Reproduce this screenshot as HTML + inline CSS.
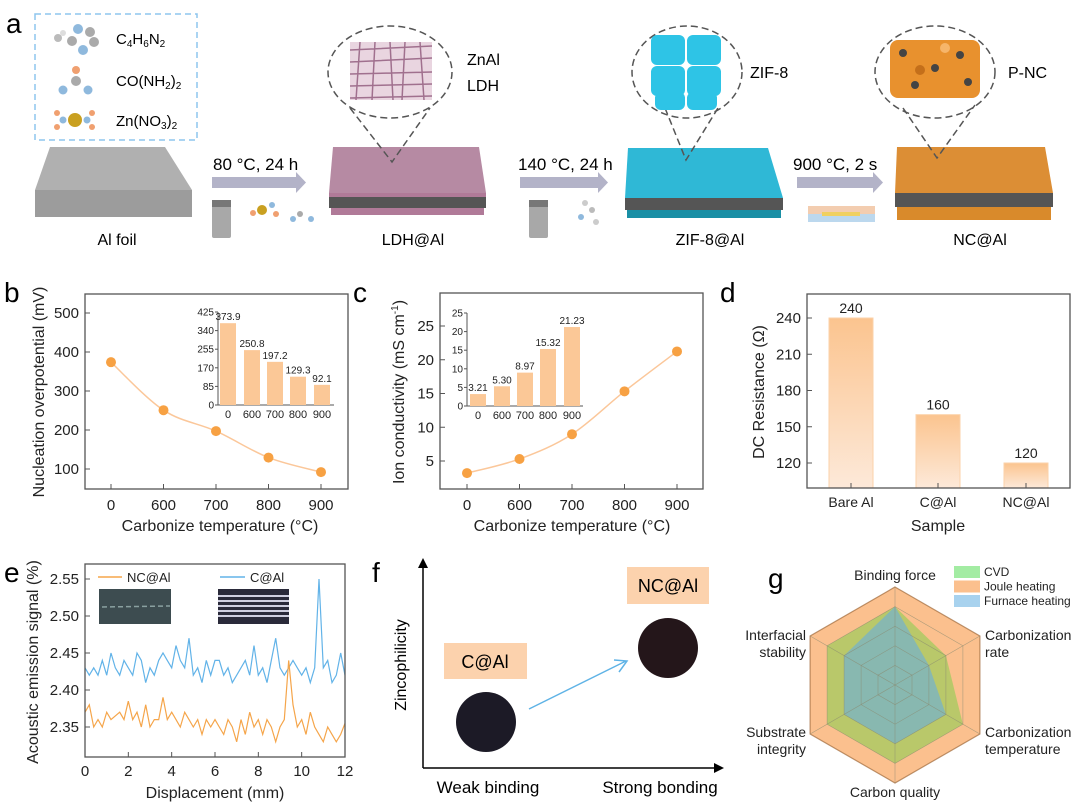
<!DOCTYPE html>
<html><head><meta charset="utf-8"><style>
html,body{margin:0;padding:0;background:#fff;}
svg{display:block;font-family:"Liberation Sans",Arial,sans-serif;}
</style></head><body>
<svg id="fig" width="1080" height="805" viewBox="0 0 1080 805" xmlns="http://www.w3.org/2000/svg">
<defs>
<linearGradient id="barGrad" x1="0" y1="0" x2="0" y2="1"><stop offset="0" stop-color="#fbc48f"/><stop offset="1" stop-color="#fde9d9"/></linearGradient>
</defs>
<!-- Panel a -->
<g>
<text x="6" y="33" font-size="28" fill="#000">a</text>
<rect x="35" y="14" width="162" height="126" fill="none" stroke="#8ec5ee" stroke-width="1.5" stroke-dasharray="6,4"/>
<g>
<circle cx="78" cy="29" r="5" fill="#8fb9dd"/><circle cx="90" cy="32" r="5" fill="#aaa"/><circle cx="72" cy="41" r="5" fill="#aaa"/><circle cx="94" cy="42" r="5" fill="#aaa"/><circle cx="83" cy="50" r="5" fill="#8fb9dd"/><circle cx="58" cy="38" r="4" fill="#bbb"/><circle cx="63" cy="33" r="3" fill="#ddd"/>
<circle cx="76" cy="70" r="4" fill="#f0a070"/><circle cx="76" cy="81" r="5" fill="#aaa"/><circle cx="63" cy="90" r="4.5" fill="#8fb9dd"/><circle cx="88" cy="90" r="4.5" fill="#8fb9dd"/>
<circle cx="75" cy="120" r="7" fill="#c9a020"/><circle cx="63" cy="120" r="3.5" fill="#8fb9dd"/><circle cx="87" cy="120" r="3.5" fill="#8fb9dd"/><circle cx="57" cy="113" r="3" fill="#f0a070"/><circle cx="57" cy="127" r="3" fill="#f0a070"/><circle cx="92" cy="113" r="3" fill="#f0a070"/><circle cx="92" cy="127" r="3" fill="#f0a070"/>
</g>
<text x="116" y="44" font-size="15">C<tspan font-size="10" dy="3">4</tspan><tspan dy="-3">H</tspan><tspan font-size="10" dy="3">6</tspan><tspan dy="-3">N</tspan><tspan font-size="10" dy="3">2</tspan></text>
<text x="116" y="86" font-size="15">CO(NH<tspan font-size="10" dy="3">2</tspan><tspan dy="-3">)</tspan><tspan font-size="10" dy="3">2</tspan></text>
<text x="116" y="126" font-size="15">Zn(NO<tspan font-size="10" dy="3">3</tspan><tspan dy="-3">)</tspan><tspan font-size="10" dy="3">2</tspan></text>
<g>
<polygon points="50,147 165,147 192,190 35,190" fill="#b0b0b0"/><rect x="35" y="190" width="157" height="27" fill="#9c9c9c"/>
</g>
<text x="117" y="245" font-size="16" text-anchor="middle">Al foil</text>
<g><rect x="212" y="177" width="84" height="11" fill="#b3b3c8"/><polygon points="296,172 306,182.5 296,193" fill="#b3b3c8"/></g>
<text x="213" y="170" font-size="17">80 °C, 24 h</text>
<g><rect x="212" y="200" width="19" height="38" rx="2" fill="#a8a8a8"/><rect x="212" y="200" width="19" height="7" fill="#777"/><rect x="529" y="200" width="19" height="38" rx="2" fill="#a8a8a8"/><rect x="529" y="200" width="19" height="7" fill="#777"/>
<circle cx="262" cy="210" r="5" fill="#c9a020"/><circle cx="253" cy="213" r="3" fill="#f0a070"/><circle cx="272" cy="205" r="3" fill="#8fb9dd"/><circle cx="276" cy="214" r="3" fill="#f0a070"/><circle cx="300" cy="214" r="3" fill="#aaa"/><circle cx="293" cy="219" r="3" fill="#8fb9dd"/><circle cx="311" cy="219" r="3" fill="#8fb9dd"/>
<circle cx="585" cy="203" r="3" fill="#ccc"/><circle cx="592" cy="210" r="3" fill="#bbb"/><circle cx="581" cy="217" r="3" fill="#8fb9dd"/><circle cx="596" cy="222" r="3" fill="#ccc"/></g>
<g>
<polygon points="333,147 479,147 486,193 329,193" fill="#b68aa3"/><rect x="329" y="193" width="157" height="4" fill="#b07a98"/><rect x="329" y="197" width="157" height="11" fill="#555"/><rect x="331" y="208" width="153" height="7" fill="#b07a98"/>
</g>
<text x="413" y="245" font-size="16" text-anchor="middle">LDH@Al</text>
<ellipse cx="390" cy="72" rx="62" ry="46" fill="#fff" stroke="#555" stroke-width="1.5" stroke-dasharray="7,4"/>
<polyline points="350,108 392,162 430,108" fill="none" stroke="#555" stroke-width="1.5" stroke-dasharray="7,4"/>
<g stroke="#a0708e" stroke-width="1.5" fill="none">
<rect x="350" y="42" width="82" height="58" fill="#e9d5e0" stroke="none"/>
<path d="M350,50 L432,46 M350,62 L432,58 M350,74 L432,72 M350,86 L432,84 M350,98 L432,96 M360,42 L356,100 M375,42 L372,100 M390,42 L393,100 M405,42 L402,100 M420,42 L424,100"/>
</g>
<text x="467" y="65" font-size="16">ZnAl</text>
<text x="467" y="91" font-size="16">LDH</text>
<g><rect x="520" y="177" width="78" height="11" fill="#b3b3c8"/><polygon points="598,172 608,182.5 598,193" fill="#b3b3c8"/></g>
<text x="518" y="170" font-size="17">140 °C, 24 h</text>
<g>
<polygon points="628,148 768,148 783,198 625,198" fill="#2fb8d6"/><rect x="625" y="198" width="158" height="12" fill="#555"/><rect x="627" y="210" width="154" height="8" fill="#1a8fa5"/>
</g>
<text x="710" y="245" font-size="16" text-anchor="middle">ZIF-8@Al</text>
<ellipse cx="687" cy="72" rx="55" ry="46" fill="#fff" stroke="#555" stroke-width="1.5" stroke-dasharray="7,4"/>
<polyline points="665,108 686,160 718,108" fill="none" stroke="#555" stroke-width="1.5" stroke-dasharray="7,4"/>
<g fill="#2ec4e6">
<rect x="651" y="35" width="34" height="30" rx="6"/><rect x="687" y="35" width="34" height="30" rx="6"/><rect x="651" y="66" width="34" height="30" rx="6"/><rect x="687" y="66" width="34" height="30" rx="6"/><rect x="655" y="92" width="30" height="18" rx="6"/><rect x="687" y="92" width="30" height="18" rx="6"/>
</g>
<text x="750" y="78" font-size="16">ZIF-8</text>
<g><rect x="797" y="177" width="76" height="11" fill="#b3b3c8"/><polygon points="873,172 883,182.5 873,193" fill="#b3b3c8"/></g>
<text x="793" y="170" font-size="17">900 °C, 2 s</text>
<g><rect x="808" y="206" width="67" height="8" fill="#f3cdb0"/><rect x="808" y="214" width="67" height="8" fill="#bcd8ee"/><rect x="822" y="212" width="38" height="4" fill="#f0d060"/></g>
<g>
<polygon points="897,147 1045,147 1053,193 895,193" fill="#dc8e35"/><rect x="895" y="193" width="158" height="14" fill="#555"/><rect x="897" y="207" width="154" height="13" fill="#d98a2b"/>
</g>
<text x="980" y="245" font-size="16" text-anchor="middle">NC@Al</text>
<ellipse cx="935" cy="72" rx="60" ry="46" fill="#fff" stroke="#555" stroke-width="1.5" stroke-dasharray="7,4"/>
<polyline points="903,108 937,158 975,105" fill="none" stroke="#555" stroke-width="1.5" stroke-dasharray="7,4"/>
<g>
<rect x="890" y="40" width="90" height="58" rx="8" fill="#e8912e"/>
<circle cx="903" cy="53" r="4" fill="#444"/><circle cx="935" cy="68" r="4" fill="#444"/><circle cx="960" cy="55" r="4" fill="#444"/><circle cx="915" cy="85" r="4" fill="#444"/><circle cx="968" cy="82" r="4" fill="#444"/><circle cx="945" cy="48" r="5" fill="#f6b56a"/><circle cx="920" cy="70" r="5" fill="#c46f1a"/>
</g>
<text x="1008" y="78" font-size="16">P-NC</text>
</g>
<!-- panel letters -->
<text x="4" y="302" font-size="28">b</text>
<text x="353" y="302" font-size="28">c</text>
<text x="720" y="302" font-size="28">d</text>
<text x="4" y="582" font-size="28">e</text>
<text x="372" y="582" font-size="28">f</text>
<text x="768" y="588" font-size="28">g</text>
<!-- Panel f -->
<g>
<line x1="423" y1="768" x2="423" y2="566" stroke="#000" stroke-width="1.5"/>
<polygon points="418,568 423,558 428,568" fill="#000"/>
<line x1="423" y1="768" x2="716" y2="768" stroke="#000" stroke-width="1.5"/>
<polygon points="714,763 724,768 714,773" fill="#000"/>
<text transform="translate(406,665) rotate(-90)" font-size="16" text-anchor="middle">Zincophilicity</text>
<text x="488" y="793" font-size="17" text-anchor="middle">Weak binding</text>
<text x="660" y="793" font-size="17" text-anchor="middle">Strong bonding</text>
<rect x="444" y="643" width="83" height="36" fill="#fcd2ad"/>
<text x="485" y="668" font-size="18" text-anchor="middle">C@Al</text>
<circle cx="486" cy="722" r="30" fill="#1c1a26"/>
<rect x="627" y="567" width="82" height="37" fill="#fcd2ad"/>
<text x="668" y="592" font-size="18" text-anchor="middle">NC@Al</text>
<circle cx="668" cy="648" r="30" fill="#24161a"/>
<line x1="529" y1="709" x2="626" y2="661" stroke="#5fb3e6" stroke-width="1.5"/>
<polyline points="614,660 627,661 619,672" fill="none" stroke="#5fb3e6" stroke-width="1.5"/>
</g>
<g id="charts"></g>
</svg>
<script>
// ---------- data ----------
const bCats = ['0','600','700','800','900'];
const bVals = [373.9, 250.8, 197.2, 129.3, 92.1];
const bLabels = ['373.9','250.8','197.2','129.3','92.1'];
const bYTicks = [100, 200, 300, 400, 500];
const bInsetTicks = [0, 85, 170, 255, 340, 425];
const cCats = ['0','600','700','800','900'];
const cVals = [3.21, 5.30, 8.97, 15.32, 21.23];
const cLabels = ['3.21','5.30','8.97','15.32','21.23'];
const cYTicks = [5, 10, 15, 20, 25];
const cInsetTicks = [0, 5, 10, 15, 20, 25];
const dCats = ['Bare Al','C@Al','NC@Al'];
const dVals = [240, 160, 120];
const dYTicks = [120, 150, 180, 210, 240];
const eXTicks = [0, 2, 4, 6, 8, 10, 12];
const eYTicks = [2.35, 2.40, 2.45, 2.50, 2.55];
const eOrange = [2.37,2.38,2.35,2.36,2.35,2.37,2.36,2.365,2.37,2.36,
 2.385,2.36,2.37,2.35,2.38,2.35,2.36,2.36,2.39,2.36,
 2.37,2.36,2.35,2.37,2.36,2.35,2.36,2.34,2.36,2.35,
 2.36,2.35,2.34,2.36,2.35,2.33,2.36,2.34,2.37,2.35,
 2.36,2.34,2.36,2.35,2.33,2.35,2.36,2.44,2.38,2.35,
 2.36,2.34,2.37,2.35,2.34,2.33,2.35,2.34,2.33,2.34,2.355];
const eBlue = [2.43,2.42,2.43,2.42,2.44,2.42,2.45,2.43,2.42,2.44,
 2.43,2.42,2.45,2.44,2.41,2.43,2.42,2.44,2.45,2.44,
 2.43,2.46,2.44,2.43,2.47,2.42,2.43,2.41,2.44,2.42,
 2.44,2.44,2.42,2.43,2.41,2.42,2.43,2.44,2.42,2.46,
 2.42,2.43,2.41,2.44,2.47,2.43,2.42,2.43,2.44,2.43,
 2.42,2.43,2.41,2.43,2.55,2.43,2.44,2.41,2.42,2.45,2.42];
const gAxes = ['Binding force','Carbonization rate','Carbonization temperature','Carbon quality','Substrate integrity','Interfacial stability'];
const gJoule = [5,5,5,5,5,5];
const gCVD = [4,3,4,4,4,4];
const gFurnace = [4,2,3,3,3,3];

const NS = 'http://www.w3.org/2000/svg';
const root = document.getElementById('charts');
function el(tag, attrs, parent) {
  const e = document.createElementNS(NS, tag);
  for (const k in attrs) e.setAttribute(k, attrs[k]);
  (parent || root).appendChild(e);
  return e;
}
function txt(x, y, s, size, anchor, parent) {
  const t = el('text', {x: x, y: y, 'font-size': size, 'text-anchor': anchor || 'middle', fill: '#222'}, parent);
  t.textContent = s;
  return t;
}
function smooth(pts) {
  let d = 'M' + pts[0][0] + ',' + pts[0][1];
  for (let i = 0; i < pts.length - 1; i++) {
    const p0 = pts[Math.max(i - 1, 0)], p1 = pts[i], p2 = pts[i + 1], p3 = pts[Math.min(i + 2, pts.length - 1)];
    const c1 = [p1[0] + (p2[0] - p0[0]) / 6, p1[1] + (p2[1] - p0[1]) / 6];
    const c2 = [p2[0] - (p3[0] - p1[0]) / 6, p2[1] - (p3[1] - p1[1]) / 6];
    d += ' C' + c1 + ' ' + c2 + ' ' + p2;
  }
  return d;
}
function frame(x0, y0, x1, y1, name) {
  const r = el('rect', {x: x0, y: y0, width: x1 - x0, height: y1 - y0, fill: 'none', stroke: '#555', 'stroke-width': 1.3});
  
  
}

// ---------- panel b ----------
(function () {
  const g = el('g', {});
  
  
  const X0 = 85, X1 = 348, Y0 = 294, Y1 = 489;
  const xs = [111, 163.5, 216, 268.5, 321];
  const y = v => 469 - (v - 100) * (156 / 400);
  frame(X0, Y0, X1, Y1, 'b-plot-frame');
  bYTicks.forEach(v => {
    el('line', {x1: X0, y1: y(v), x2: X0 + 5, y2: y(v), stroke: '#555'}, g);
    const t = txt(X0 - 6, y(v) + 5, v, 15, 'end', g);
    
    
  });
  bCats.forEach((c, i) => {
    el('line', {x1: xs[i], y1: Y1, x2: xs[i], y2: Y1 - 5, stroke: '#555'}, g);
    const t = txt(xs[i], 510, c, 15, 'middle', g);
    
    
  });
  const pts = bVals.map((v, i) => [xs[i], y(v)]);
  const p = el('path', {d: smooth(pts), fill: 'none', stroke: '#fbc79a', 'stroke-width': 1.5}, g);
  
  
  pts.forEach(pt => {
    const c = el('circle', {cx: pt[0], cy: pt[1], r: 5, fill: '#f7a143'}, g);
    
    
  });
  const xt = txt(220, 531, 'Carbonize temperature (°C)', 16, 'middle', g);
  
  
  const yt = txt(0, 0, 'Nucleation overpotential (mV)', 16, 'middle', g);
  yt.setAttribute('transform', 'translate(44,392) rotate(-90)');
  
  
  const iX0 = 218, iX1 = 334, iY0 = 312, iY1 = 405;
  const ixs = [228, 252, 275, 298, 322];
  const iy = v => iY1 - v * (iY1 - iY0) / 425;
  el('line', {x1: iX0, y1: iY0, x2: iX0, y2: iY1, stroke: '#555'}, g);
  el('line', {x1: iX0, y1: iY1, x2: iX1, y2: iY1, stroke: '#555'}, g);
  bInsetTicks.forEach(v => {
    el('line', {x1: iX0 - 3, y1: iy(v), x2: iX0, y2: iy(v), stroke: '#555'}, g);
    const t = txt(iX0 - 4, iy(v) + 3.5, v, 10, 'end', g);
    
    
  });
  bVals.forEach((v, i) => {
    const r = el('rect', {x: ixs[i] - 8, y: iy(v), width: 16, height: iY1 - iy(v), fill: '#fbc897'}, g);
    
    
    const t = txt(ixs[i], iy(v) - 3, bLabels[i], 10, 'middle', g);
    
    
    const t2 = txt(ixs[i], iY1 + 13, bCats[i], 11, 'middle', g);
    
    
  });
})();

// ---------- panel c ----------
(function () {
  const g = el('g', {});
  
  
  const X0 = 440, X1 = 703, Y0 = 293, Y1 = 489;
  const xs = [467, 519.5, 572, 624.5, 677];
  const y = v => 461 - (v - 5) * (135 / 20);
  frame(X0, Y0, X1, Y1, 'c-plot-frame');
  cYTicks.forEach(v => {
    el('line', {x1: X0, y1: y(v), x2: X0 + 5, y2: y(v), stroke: '#555'}, g);
    const t = txt(X0 - 6, y(v) + 5, v, 15, 'end', g);
    
    
  });
  cCats.forEach((c, i) => {
    el('line', {x1: xs[i], y1: Y1, x2: xs[i], y2: Y1 - 5, stroke: '#555'}, g);
    const t = txt(xs[i], 510, c, 15, 'middle', g);
    
    
  });
  const pts = cVals.map((v, i) => [xs[i], y(v)]);
  const p = el('path', {d: smooth(pts), fill: 'none', stroke: '#fbc79a', 'stroke-width': 1.5}, g);
  
  
  pts.forEach(pt => {
    const c = el('circle', {cx: pt[0], cy: pt[1], r: 5, fill: '#f7a143'}, g);
    
    
  });
  const xt = txt(572, 531, 'Carbonize temperature (°C)', 16, 'middle', g);
  
  
  const yt = el('text', {transform: 'translate(404,392) rotate(-90)', 'font-size': 16, 'text-anchor': 'middle', fill: '#222'}, g);
  yt.innerHTML = 'Ion conductivity (mS cm<tspan font-size="10" dy="-6">-1</tspan><tspan dy="6">)</tspan>';
  
  
  const iX0 = 467, iX1 = 583, iY0 = 313, iY1 = 406;
  const ixs = [478, 502, 525, 548, 572];
  const iy = v => iY1 - v * (iY1 - iY0) / 25;
  el('line', {x1: iX0, y1: iY0, x2: iX0, y2: iY1, stroke: '#555'}, g);
  el('line', {x1: iX0, y1: iY1, x2: iX1, y2: iY1, stroke: '#555'}, g);
  cInsetTicks.forEach(v => {
    el('line', {x1: iX0 - 3, y1: iy(v), x2: iX0, y2: iy(v), stroke: '#555'}, g);
    const t = txt(iX0 - 4, iy(v) + 3.5, v, 10, 'end', g);
    
    
  });
  cVals.forEach((v, i) => {
    const r = el('rect', {x: ixs[i] - 8, y: iy(v), width: 16, height: iY1 - iy(v), fill: '#fbc897'}, g);
    
    
    const t = txt(ixs[i], iy(v) - 3, cLabels[i], 10, 'middle', g);
    
    
    const t2 = txt(ixs[i], iY1 + 13, cCats[i], 11, 'middle', g);
    
    
  });
})();

// ---------- panel d ----------
(function () {
  const g = el('g', {});
  
  
  const X0 = 807, X1 = 1070, Y0 = 294, Y1 = 488;
  const xs = [851, 938, 1026];
  const y = v => 463 - (v - 120) * (145 / 120);
  dVals.forEach((v, i) => {
    const r = el('rect', {x: xs[i] - 22, y: y(v), width: 44, height: Y1 - y(v), fill: 'url(#barGrad)', stroke: '#fbd2aa'}, g);
    
    
    const t = txt(xs[i], y(v) - 5, v, 14, 'middle', g);
    
    
    const t2 = txt(xs[i], 507, dCats[i], 14, 'middle', g);
    
    
    el('line', {x1: xs[i], y1: Y1, x2: xs[i], y2: Y1 - 5, stroke: '#555'}, g);
  });
  frame(X0, Y0, X1, Y1, 'd-plot-frame');
  dYTicks.forEach(v => {
    el('line', {x1: X0, y1: y(v), x2: X0 + 5, y2: y(v), stroke: '#555'}, g);
    const t = txt(X0 - 6, y(v) + 5, v, 15, 'end', g);
    
    
  });
  const xt = txt(938, 531, 'Sample', 16, 'middle', g);
  
  
  const yt = txt(0, 0, 'DC Resistance (Ω)', 16, 'middle', g);
  yt.setAttribute('transform', 'translate(764,392) rotate(-90)');
  
  
})();

// ---------- panel e ----------
(function () {
  const g = el('g', {});
  
  
  const X0 = 85, X1 = 345, Y0 = 564, Y1 = 757;
  const x = v => X0 + v * (X1 - X0) / 12;
  const y = v => 727 - (v - 2.35) * (148 / 0.2);
  frame(X0, Y0, X1, Y1, 'e-plot-frame');
  eYTicks.forEach(v => {
    el('line', {x1: X0, y1: y(v), x2: X0 + 5, y2: y(v), stroke: '#555'}, g);
    const t = txt(X0 - 6, y(v) + 5, v.toFixed(2), 15, 'end', g);
    
    
  });
  eXTicks.forEach(v => {
    el('line', {x1: x(v), y1: Y1, x2: x(v), y2: Y1 - 5, stroke: '#555'}, g);
    const t = txt(x(v), 776, v, 15, 'middle', g);
    
    
  });
  const line = (arr, color, name) => {
    const n = arr.length;
    const pts = arr.map((v, i) => x(i * 12 / (n - 1)).toFixed(1) + ',' + y(v).toFixed(1)).join(' ');
    const pl = el('polyline', {points: pts, fill: 'none', stroke: color, 'stroke-width': 1.2}, g);
    
    
  };
  line(eBlue, '#62b3e8', 'e-series-c-al');
  line(eOrange, '#f5a54a', 'e-series-nc-al');
  el('line', {x1: 98, y1: 577, x2: 122, y2: 577, stroke: '#f5a54a', 'stroke-width': 1.5}, g);
  const l1 = txt(127, 582, 'NC@Al', 13, 'start', g);
  
  
  el('line', {x1: 220, y1: 577, x2: 245, y2: 577, stroke: '#62b3e8', 'stroke-width': 1.5}, g);
  const l2 = txt(250, 582, 'C@Al', 13, 'start', g);
  
  
  const im1 = el('rect', {x: 99, y: 589, width: 72, height: 35, fill: '#3d4c50'}, g);
  
  
  el('line', {x1: 102, y1: 607, x2: 170, y2: 606, stroke: '#8aa0a0', 'stroke-width': 1.5, 'stroke-dasharray': '5,3'}, g);
  const im2 = el('rect', {x: 218, y: 589, width: 71, height: 35, fill: '#2a2a3a'}, g);
  
  
  [596, 601, 606, 611, 616].forEach(yy => el('line', {x1: 218, y1: yy, x2: 289, y2: yy, stroke: '#cfcfe0', 'stroke-width': 2}, g));
  const xt = txt(215, 798, 'Displacement (mm)', 16, 'middle', g);
  
  
  const yt = txt(0, 0, 'Acoustic emission signal (%)', 16, 'middle', g);
  yt.setAttribute('transform', 'translate(38,662) rotate(-90)');
  
  
})();

// ---------- panel g ----------
(function () {
  const g = el('g', {});
  
  
  const cx = 895, cy = 685, R = 98, N = 6, MAX = 5;
  const pt = (i, v) => {
    const a = -Math.PI / 2 + i * 2 * Math.PI / N;
    return [cx + R * v / MAX * Math.cos(a), cy + R * v / MAX * Math.sin(a)];
  };
  const poly = (vals, fill, op, name) => {
    const p = el('polygon', {points: vals.map((v, i) => pt(i, v).map(n => n.toFixed(1)).join(',')).join(' '), fill: fill, 'fill-opacity': op}, g);
    
    
  };
  poly(gJoule, '#fbc08e', 1, 'g-series-joule-heating');
  poly(gCVD, '#b9c86a', 1, 'g-series-cvd');
  poly(gFurnace, '#88b8b0', 1, 'g-series-furnace-heating');
  for (let l = 1; l <= MAX; l++) {
    el('polygon', {points: gJoule.map((_, i) => pt(i, l).map(n => n.toFixed(1)).join(',')).join(' '), fill: 'none', stroke: l === MAX ? '#a06a3a' : '#8a8a70', 'stroke-width': l === MAX ? 1.2 : 0.6, 'stroke-opacity': 0.7}, g);
  }
  for (let i = 0; i < N; i++) {
    const p = pt(i, MAX);
    el('line', {x1: cx, y1: cy, x2: p[0], y2: p[1], stroke: '#8a8a70', 'stroke-width': 0.6, 'stroke-opacity': 0.7}, g);
  }
  const lab = [[895, 580, 'middle', ['Binding force']], [985, 640, 'start', ['Carbonization', 'rate']], [985, 737, 'start', ['Carbonization', 'temperature']], [895, 797, 'middle', ['Carbon quality']], [806, 737, 'end', ['Substrate', 'integrity']], [806, 640, 'end', ['Interfacial', 'stability']]];
  gAxes.forEach((a, i) => {
    const L = lab[i];
    L[3].forEach((s, k) => {
      const t = txt(L[0], L[1] + k * 17, s, 14, L[2], g);
      
      
    });
  });
  const leg = [['CVD', '#a3eca3'], ['Joule heating', '#fbc08e'], ['Furnace heating', '#a8d2ee']];
  leg.forEach((l, i) => {
    const r = el('rect', {x: 954, y: 566 + i * 14.5, width: 26, height: 12, fill: l[1]}, g);
    
    
    const t = txt(984, 576 + i * 14.5, l[0], 12, 'start', g);
    
    
  });
})();
</script>
</body></html>
